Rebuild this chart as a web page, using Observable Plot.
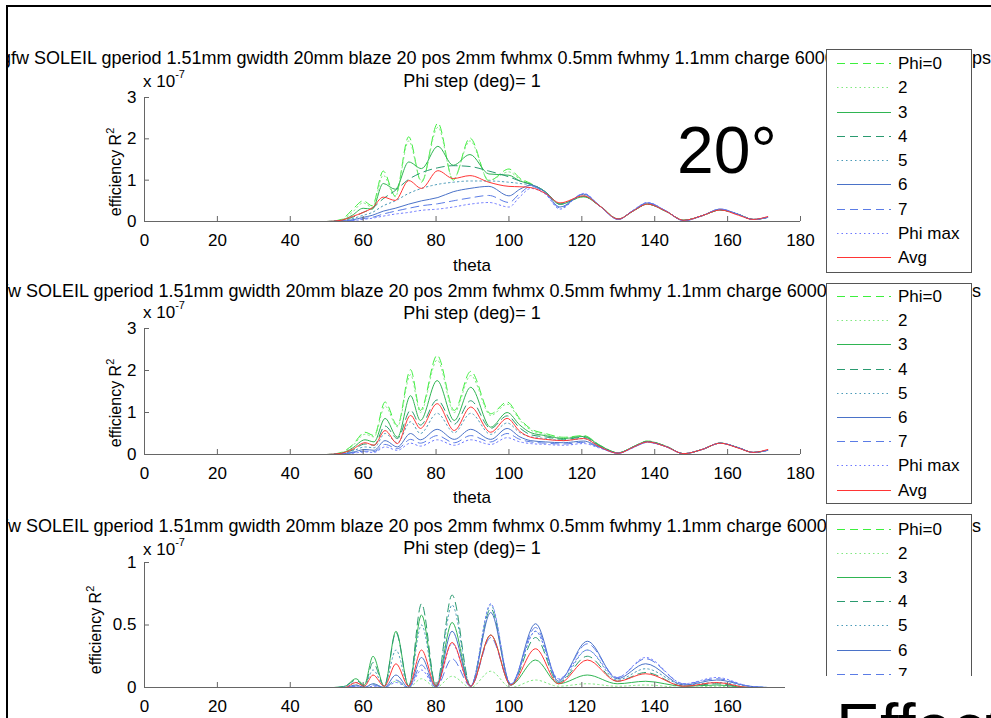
<!DOCTYPE html>
<html><head><meta charset="utf-8">
<script src="https://cdn.jsdelivr.net/npm/d3@7"></script>
<script src="https://cdn.jsdelivr.net/npm/@observablehq/plot@0.6"></script>
<style>
html,body{margin:0;padding:0;background:#fff;}
body{width:991px;height:718px;overflow:hidden;position:relative;font-family:"Liberation Sans",Arial,Helvetica,sans-serif;}
#clip{position:absolute;left:8px;top:7px;width:983px;height:711px;overflow:hidden;}
#stage{position:absolute;left:-8px;top:-7px;width:991px;height:718px;}
.panel{position:absolute;left:0;}
</style></head><body>
<div id="clip"><div id="stage"></div></div>
<div style="position:absolute;left:6px;top:5px;width:2px;height:713px;background:#000"></div>
<div style="position:absolute;left:6px;top:5px;width:985px;height:2px;background:#000"></div>
<script>
// ---------- data ----------
const SERIES = ["Phi=0", "2", "3", "4", "5", "6", "7", "Phi max", "Avg"];
const X_TICKS = [0, 20, 40, 60, 80, 100, 120, 140, 160, 180];
const X_TICK_LABELS = ["0", "20", "40", "60", "80", "100", "120", "140", "160", "180"];
const P12_Y_TICKS = [0, 1, 2, 3];
const P12_Y_TICK_LABELS = ["0", "1", "2", "3"];
const P3_Y_TICKS = [0, 0.5, 1];
const P3_Y_TICK_LABELS = ["0", "0.5", "1"];
const TITLE_TEXT = "gfw SOLEIL gperiod 1.51mm gwidth 20mm blaze 20 pos 2mm fwhmx 0.5mm fwhmy 1.1mm charge 6000";
const TITLE_TAIL = "ps";
const SUBTITLE_TEXT = "Phi step (deg)= 1";
const X_LABEL = "theta";
const Y_LABEL = "efficiency R";
const Y_LABEL_SUP = "2";
const EXP_TEXT = "x 10";
const EXP_SUP = "-7";
const BIG_LABEL = "20°";
const FOOT_TEXT = "Effect";

// panel 1
const P1_THETA = [20, 50, 54, 57, 60, 62.5, 65.5, 68.8, 72.5, 76, 80.5, 84.7, 89.3, 94.5, 100, 103, 106, 110, 114, 120.5, 125, 130, 134, 138, 143, 148, 153, 158, 163, 167, 171];
const P1_PHI0 = [0,0,0.05,0.28,0.5,0.38,1.22,0.62,2.05,0.95,2.38,1.0,2.02,0.98,1.27,1.05,0.92,0.72,0.42,0.6,0.38,0.06,0.25,0.42,0.25,0.03,0.14,0.28,0.17,0.05,0.1];
const P1_PHI2 = [0,0,0.04,0.22,0.45,0.34,1.12,0.6,1.95,0.98,2.28,1.02,1.95,1.0,1.2,1.02,0.9,0.72,0.42,0.6,0.38,0.06,0.25,0.42,0.25,0.03,0.14,0.28,0.17,0.05,0.1];
const P1_PHI3 = [0,0,0.03,0.15,0.32,0.3,0.92,0.78,1.44,1.28,1.82,1.36,1.62,1.15,1.12,0.98,0.9,0.72,0.42,0.6,0.37,0.06,0.25,0.42,0.25,0.03,0.14,0.28,0.17,0.05,0.1];
const P1_PHI4 = [0,0,0.02,0.1,0.22,0.32,0.55,0.75,1.02,1.18,1.3,1.35,1.33,1.22,1.08,0.98,0.9,0.72,0.42,0.61,0.37,0.06,0.25,0.42,0.25,0.03,0.14,0.28,0.17,0.05,0.1];
const P1_PHI5 = [0,0,0.02,0.07,0.15,0.22,0.38,0.5,0.68,0.8,0.9,0.95,0.98,0.98,0.95,0.92,0.88,0.72,0.42,0.62,0.37,0.06,0.25,0.43,0.25,0.03,0.14,0.28,0.17,0.05,0.1];
const P1_PHI6 = [0,0,0.01,0.04,0.1,0.15,0.25,0.32,0.42,0.5,0.58,0.72,0.8,0.85,0.62,0.78,0.88,0.7,0.35,0.66,0.37,0.05,0.26,0.45,0.26,0.02,0.14,0.3,0.17,0.05,0.1];
const P1_PHI7 = [0,0,0.01,0.03,0.07,0.1,0.18,0.25,0.32,0.38,0.43,0.5,0.57,0.63,0.46,0.68,0.85,0.68,0.33,0.67,0.37,0.05,0.26,0.45,0.26,0.02,0.14,0.3,0.17,0.05,0.1];
const P1_PHIMAX = [0,0,0.01,0.02,0.05,0.08,0.13,0.18,0.22,0.27,0.3,0.35,0.42,0.46,0.35,0.6,0.8,0.66,0.3,0.68,0.37,0.05,0.27,0.46,0.26,0.02,0.14,0.3,0.17,0.05,0.1];
const P1_AVG = [0,0,0.03,0.12,0.22,0.33,0.59,0.51,0.99,0.8,1.23,1.04,1.11,0.95,0.85,0.84,0.82,0.68,0.45,0.62,0.37,0.06,0.25,0.42,0.25,0.03,0.14,0.28,0.15,0.05,0.12];

// panel 2
const P2_THETA = [20, 50, 54, 57, 60.5, 63, 66, 69.4, 73, 75.7, 80.3, 85, 89.5, 95, 99.5, 103, 106, 110, 115, 120.5, 125, 130, 134, 138, 143, 148, 153, 158, 163, 167, 171];
const P2_PHI0 = [0,0,0.05,0.22,0.53,0.45,1.25,0.69,2.02,1.05,2.36,1.05,1.98,0.97,1.25,0.85,0.61,0.5,0.41,0.45,0.22,0.04,0.18,0.32,0.2,0.02,0.12,0.27,0.16,0.05,0.1];
const P2_PHI2 = [0,0,0.04,0.2,0.48,0.42,1.15,0.66,1.9,1.0,2.25,1.0,1.88,0.93,1.2,0.82,0.58,0.48,0.4,0.44,0.22,0.04,0.18,0.32,0.2,0.02,0.12,0.27,0.16,0.05,0.1];
const P2_PHI3 = [0,0,0.03,0.15,0.35,0.3,0.86,0.41,1.4,0.81,1.76,0.81,1.6,0.65,1.0,0.7,0.52,0.45,0.38,0.43,0.21,0.04,0.18,0.31,0.2,0.02,0.12,0.27,0.16,0.05,0.1];
const P2_PHI4 = [0,0,0.02,0.1,0.25,0.22,0.68,0.38,1.05,0.7,1.3,0.72,1.28,0.62,0.92,0.63,0.47,0.42,0.36,0.41,0.2,0.04,0.18,0.31,0.2,0.02,0.12,0.27,0.16,0.05,0.1];
const P2_PHI5 = [0,0,0.02,0.08,0.18,0.16,0.5,0.28,0.78,0.5,0.98,0.52,0.98,0.48,0.75,0.52,0.42,0.38,0.33,0.38,0.19,0.03,0.17,0.3,0.19,0.02,0.12,0.27,0.16,0.05,0.1];
const P2_PHI6 = [0,0,0.01,0.05,0.12,0.1,0.33,0.18,0.5,0.35,0.6,0.36,0.6,0.36,0.62,0.42,0.33,0.3,0.28,0.32,0.17,0.03,0.17,0.3,0.19,0.02,0.12,0.27,0.16,0.05,0.1];
const P2_PHI7 = [0,0,0.01,0.04,0.08,0.07,0.24,0.14,0.36,0.27,0.45,0.28,0.45,0.3,0.5,0.36,0.3,0.27,0.25,0.29,0.16,0.03,0.16,0.29,0.19,0.02,0.12,0.27,0.16,0.05,0.1];
const P2_PHIMAX = [0,0,0.01,0.03,0.06,0.05,0.18,0.1,0.27,0.2,0.35,0.22,0.35,0.24,0.4,0.3,0.26,0.24,0.22,0.26,0.15,0.03,0.16,0.29,0.19,0.02,0.12,0.27,0.16,0.05,0.1];
const P2_AVG = [0,0,0.03,0.12,0.28,0.22,0.57,0.26,0.93,0.62,1.21,0.57,1.13,0.53,0.86,0.55,0.41,0.36,0.33,0.38,0.18,0.03,0.17,0.3,0.19,0.02,0.12,0.27,0.15,0.05,0.12];

// panel 3
const P3_THETA = [20, 52, 55, 58, 60.3, 62.7, 65.8, 69, 72.5, 76, 80, 84.4, 89.5, 95, 100.5, 107.3, 113.6, 121.5, 129.7, 137.5, 148, 157, 166, 171];
const P3_PHI0 = [0,0,0,0,0,0,0,0,0,0,0,0,0,0,0,0,0,0,0,0,0,0,0,0];
const P3_PHI2 = [0,0,0,0.02,0,0.03,0,0.05,0,0.07,0,0.09,0,0.13,0,0.06,0.01,0.03,0.01,0.02,0,0.01,0,0];
const P3_PHI3 = [0,0,0.01,0.07,0.02,0.25,0.01,0.45,0.01,0.58,0.01,0.52,0.01,0.42,0.02,0.22,0.03,0.1,0.03,0.05,0.01,0.02,0,0];
const P3_PHI4 = [0,0,0.01,0.06,0.01,0.2,0.01,0.44,0.01,0.67,0.01,0.74,0.01,0.63,0.02,0.4,0.04,0.25,0.05,0.12,0.01,0.03,0,0];
const P3_PHI5 = [0,0,0.01,0.04,0.01,0.14,0.01,0.3,0.01,0.5,0.01,0.66,0.01,0.66,0.02,0.45,0.04,0.3,0.06,0.15,0.02,0.04,0.01,0];
const P3_PHI6 = [0,0,0,0.02,0,0.03,0,0.1,0,0.24,0,0.45,0.01,0.6,0.02,0.51,0.05,0.37,0.07,0.19,0.02,0.06,0.01,0];
const P3_PHI7 = [0,0,0,0.01,0,0.02,0,0.06,0,0.18,0,0.23,0.01,0.4,0.03,0.48,0.06,0.35,0.08,0.23,0.03,0.07,0.01,0];
const P3_PHIMAX = [0,0,0,0.01,0,0.01,0,0.04,0,0.14,0,0.35,0.01,0.67,0.03,0.45,0.07,0.3,0.08,0.24,0.03,0.08,0.01,0];
const P3_AVG = [0,0,0,0.04,0.01,0.1,0.01,0.19,0.01,0.3,0.01,0.36,0.01,0.42,0.02,0.31,0.03,0.22,0.05,0.11,0.01,0.04,0,0];

// ---------- styles ----------
const STYLES = [
  {color: "#3df03d", dash: "8,5"},
  {color: "#80e880", dash: "1.5,3"},
  {color: "#2fb552", dash: null},
  {color: "#2a9a70", dash: "8,5"},
  {color: "#4a9ab8", dash: "1.5,3"},
  {color: "#4a72c8", dash: null},
  {color: "#5b7ce6", dash: "8,5"},
  {color: "#6c78ff", dash: "1.5,3"},
  {color: "#ff3535", dash: null}
];
const AXIS = "#666";
const FONT = "'Liberation Sans', Arial, Helvetica, sans-serif";
const W = 991, ML = 144, MR = 191;

const stage = document.getElementById("stage");

function makePanel(cfg) {
  const innerH = cfg.height - cfg.mT - cfg.mB;
  const innerW = W - ML - MR;
  const marks = [];
  cfg.series.forEach((vals, k) => {
    const data = cfg.theta.map((t, i) => ({t, v: vals[i]}));
    const opts = {x: "t", y: "v", stroke: STYLES[k].color, strokeWidth: 1, curve: "monotone-x"};
    if (STYLES[k].dash) opts.strokeDasharray = STYLES[k].dash;
    marks.push(Plot.line(data, opts));
  });
  marks.push(
    Plot.ruleY([0], {stroke: AXIS}),
    Plot.ruleX([0], {stroke: AXIS}),
    Plot.tickX(X_TICKS, {x: d => d, stroke: AXIS, insetTop: innerH - 5}),
    Plot.tickY(cfg.yTicks, {y: d => d, stroke: AXIS, insetRight: innerW - 5})
  );
  const svg = Plot.plot({
    width: W, height: cfg.height,
    marginLeft: ML, marginRight: MR, marginTop: cfg.mT, marginBottom: cfg.mB,
    style: {background: "transparent", fontSize: "17px", fontFamily: FONT, color: "#000", overflow: "visible"},
    x: {domain: [0, 180], ticks: X_TICKS, tickSize: 0, tickPadding: 12, label: null,
        tickFormat: d => X_TICK_LABELS[X_TICKS.indexOf(d)]},
    y: {domain: [cfg.yTicks[0], cfg.yTicks[cfg.yTicks.length - 1]], ticks: cfg.yTicks, tickSize: 0, tickPadding: 8, label: null,
        tickFormat: d => cfg.yLabels[cfg.yTicks.indexOf(d)]},
    marks
  });
  const div = document.createElement("div");
  div.className = "panel";
  div.style.top = cfg.top + "px";
  div.appendChild(svg);
  stage.appendChild(div);
}

makePanel({top: 85, height: 200, mT: 12, mB: 64, yTicks: P12_Y_TICKS, yLabels: P12_Y_TICK_LABELS, theta: P1_THETA,
  series: [P1_PHI0, P1_PHI2, P1_PHI3, P1_PHI4, P1_PHI5, P1_PHI6, P1_PHI7, P1_PHIMAX, P1_AVG]});
makePanel({top: 315, height: 200, mT: 13, mB: 61, yTicks: P12_Y_TICKS, yLabels: P12_Y_TICK_LABELS, theta: P2_THETA,
  series: [P2_PHI0, P2_PHI2, P2_PHI3, P2_PHI4, P2_PHI5, P2_PHI6, P2_PHI7, P2_PHIMAX, P2_AVG]});
makePanel({top: 550, height: 168, mT: 12, mB: 31, yTicks: P3_Y_TICKS, yLabels: P3_Y_TICK_LABELS, theta: P3_THETA,
  series: [P3_PHI0, P3_PHI2, P3_PHI3, P3_PHI4, P3_PHI5, P3_PHI6, P3_PHI7, P3_PHIMAX, P3_AVG]});

// ---------- overlay text / legends ----------
const PANELS = [
  {titleX: 1, tailX: 972, titleY: 64, subY: 87, expY: 87, ylabX: 121, ylabY: 172, thetaY: 271, legTop: 49, legH: 223, legFirst: 63, legStep: 24.25, legCount: 9},
  {titleX: -7, tailX: 962, titleY: 297, subY: 319, expY: 318, ylabX: 121, ylabY: 403, thetaY: 503, legTop: 283, legH: 220, legFirst: 296, legStep: 24.2, legCount: 9},
  {titleX: -7, tailX: 962, titleY: 532, subY: 554, expY: 555, ylabX: 101, ylabY: 630, thetaY: null, legTop: 514, legH: 215, legFirst: 528.5, legStep: 24.2, legCount: 7}
];
let s = `<svg width="991" height="718" style="position:absolute;left:0;top:0" font-family="${FONT}" fill="#000">`;
PANELS.forEach(p => {
  s += `<text x="${p.titleX}" y="${p.titleY}" font-size="18">${TITLE_TEXT}</text>`;
  s += `<text x="${p.tailX}" y="${p.titleY}" font-size="18">${TITLE_TAIL}</text>`;
  s += `<text x="472" y="${p.subY}" font-size="18" text-anchor="middle">${SUBTITLE_TEXT}</text>`;
  s += `<text x="143" y="${p.expY}" font-size="17" xml:space="preserve">${EXP_TEXT}<tspan dy="-9" font-size="11">${EXP_SUP}</tspan></text>`;
  s += `<text transform="translate(${p.ylabX},${p.ylabY}) rotate(-90)" text-anchor="middle" font-size="16">${Y_LABEL}<tspan dy="-7" font-size="11">${Y_LABEL_SUP}</tspan></text>`;
  if (p.thetaY) s += `<text x="472" y="${p.thetaY}" text-anchor="middle" font-size="17">${X_LABEL}</text>`;
  s += `<rect x="826.5" y="${p.legTop + 0.5}" width="145" height="${p.legH}" fill="#fff" stroke="#555" stroke-width="1"/>`;
  SERIES.slice(0, p.legCount).forEach((name, k) => {
    const yc = p.legFirst + k * p.legStep;
    const y = Math.round(yc) + 0.5;
    const st = STYLES[k];
    s += `<line x1="837" x2="891" y1="${y}" y2="${y}" stroke="${st.color}" stroke-width="1"${st.dash ? ` stroke-dasharray="${st.dash}"` : ""}/>`;
    s += `<text x="898" y="${Math.round(yc) + 6}" font-size="17">${name}</text>`;
  });
});
s += `<text x="677" y="173" font-size="66">${BIG_LABEL}</text>`;
s += `<rect x="785" y="676" width="206" height="42" fill="#fff"/>`;
s += `<text x="836" y="750" font-size="66">${FOOT_TEXT}</text>`;
s += `</svg>`;
const ov = document.createElement("div");
ov.innerHTML = s;
stage.appendChild(ov.firstChild);
</script></body></html>
